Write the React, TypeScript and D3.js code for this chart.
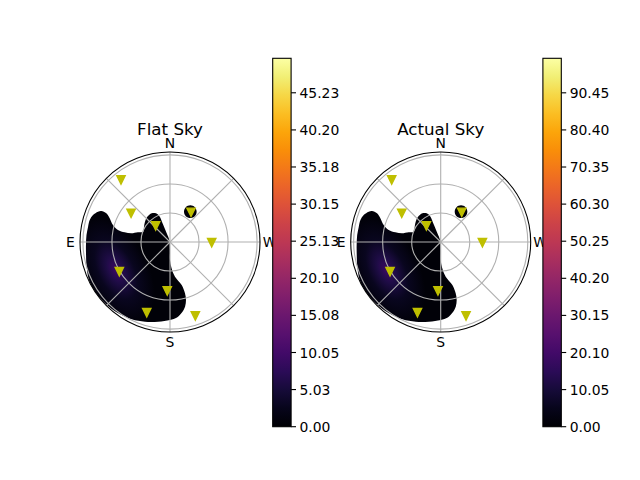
import * as d3 from 'd3';

// satellite positions (azimuth deg, zenith deg), same for both panels
const satAzimuth = [38.3, 53.6, 41.8, 324.7, 269, 120.4, 176.8, 161.8, 198.9];
const satZenith = [81.7, 50.0, 22.2, 37.6, 43.1, 60.7, 50.7, 76.9, 80.8];

// outline of the main filled region (azimuth, zenith)
const mainAz = [
  79.6, 74.7, 70.7, 67.2, 65.7, 65.7, 68.5, 73.4, 77.0, 77.9, 77.3, 73.1, 68.9,
  59.5, 50.9, 41.9, 32.5, 26.0, 22.4, 21.5, 20.8, 19.3, 180, 180, 183.3, 188.2,
  195.2, 196.3, 195.4, 193.1, 189.4, 185.3, 180, 171.6, 162.6, 153.6, 144.1,
  133.3, 123.5, 115.1, 105.4, 98.8, 92.0, 85.2,
];
const mainZen = [
  86.1, 86.0, 84.3, 80.7, 77.9, 72.2, 67.0, 61.5, 55.2, 47.9, 41.0, 34.6, 29.6,
  31.2, 33.3, 35.1, 35.2, 33.0, 29.1, 18.9, 9.6, 2.2, 8.3, 18.6, 26.9, 36.2,
  46.0, 55.2, 62.2, 68.6, 74.1, 78.3, 80.6, 83.2, 86.3, 89.1, 91.0, 92.3, 93,
  92.5, 89.5, 87.8, 86.9, 86.6,
];

// small patch round the north-west satellite
const spotAz = [318.7, 324.5, 331.0, 335.6, 335.2, 328.5, 319.8, 316.1];
const spotZen = [41.7, 44.2, 43.3, 39.5, 34.5, 31.3, 32.5, 37.0];

// brightest part of the field
const glowAz = 117.4;
const glowZen = 62.9;
const glowOffsets = [0, 0.25, 0.55, 1];
const flatGlow = [9.2, 6.0, 2.8, 0.6];
const actualGlow = [18.4, 12.0, 5.6, 1.2];

const flatMax = 49.9;
const actualMax = 99.8;
const flatTicks = [0, 5.03, 10.05, 15.08, 20.1, 25.13, 30.15, 35.18, 40.2, 45.23];
const actualTicks = [0, 10.05, 20.1, 30.15, 40.2, 50.25, 60.3, 70.35, 80.4, 90.45];

const gridZen = [30, 60, 90];
const spokes = [0, 45, 90, 135, 180, 225, 270, 315];
const dirLabels = [
  { az: 0, text: 'N' },
  { az: 90, text: 'E' },
  { az: 180, text: 'S' },
  { az: 270, text: 'W' },
];

const FONT = 'DejaVu Sans, sans-serif';
const rad = (deg: number) => (-deg * Math.PI) / 180;

type PanelProps = {
  id: string;
  title: string;
  cx: number;
  cy: number;
  cbX: number;
  max: number;
  ticks: number[];
  glow: number[];
};

function SkyPanel({ id, title, cx, cy, cbX, max, ticks, glow }: PanelProps) {
  const R = 90;
  const rScale = d3.scaleLinear().domain([0, 93]).range([0, R]);
  const color = d3.scaleSequential(d3.interpolateInferno).domain([0, max]);
  const cbTop = 58.3;
  const cbBottom = 426.7;
  const cbW = 18.4;
  const yScale = d3.scaleLinear().domain([0, max]).range([cbBottom, cbTop]);

  const radial = d3
    .lineRadial<[number, number]>()
    .angle((d) => rad(d[0]))
    .radius((d) => rScale(d[1]))
    .curve(d3.curveCatmullRomClosed.alpha(0.5));

  const mainPath = radial(mainAz.map((a, i) => [a, mainZen[i]]));
  const spotPath = radial(spotAz.map((a, i) => [a, spotZen[i]]));

  const [gx, gy] = d3.pointRadial(rad(glowAz), rScale(glowZen));
  const glowRot = 180 - glowAz;

  const cbStops = d3.range(0, 1.0001, 0.05);

  return (
    <g>
      <defs>
        <clipPath id={`clip-${id}`}>
          <circle cx={0} cy={0} r={R} />
        </clipPath>
        <radialGradient
          id={`glow-${id}`}
          gradientUnits='userSpaceOnUse'
          cx={0}
          cy={0}
          r={1}
          gradientTransform={`translate(${gx},${gy}) rotate(${glowRot}) scale(58,32)`}
        >
          {glow.map((v, i) => (
            <stop key={i} offset={glowOffsets[i]} stopColor={color(v)} />
          ))}
        </radialGradient>
        <linearGradient id={`cb-${id}`} x1={0} y1={1} x2={0} y2={0}>
          {cbStops.map((t, i) => (
            <stop key={i} offset={t} stopColor={d3.interpolateInferno(t)} />
          ))}
        </linearGradient>
      </defs>

      <g transform={`translate(${cx},${cy})`}>
        <circle r={R} fill='white' />
        <g clipPath={`url(#clip-${id})`}>
          <path d={mainPath ?? ''} fill={`url(#glow-${id})`} />
          <path d={spotPath ?? ''} fill={color(glow[3])} />
        </g>
        {gridZen.map((z) => (
          <circle key={z} r={rScale(z)} fill='none' stroke='#b0b0b0' strokeWidth={1.1} />
        ))}
        {spokes.map((a) => {
          const [x, y] = d3.pointRadial(rad(a), R);
          return <line key={a} x1={0} y1={0} x2={x} y2={y} stroke='#b0b0b0' strokeWidth={1.1} />;
        })}
        <circle r={R} fill='none' stroke='black' strokeWidth={1.1} />
        {satAzimuth.map((a, i) => {
          const [x, y] = d3.pointRadial(rad(a), rScale(satZenith[i]));
          return (
            <path
              key={i}
              transform={`translate(${x},${y})`}
              d='M-4.17,-4.17L4.17,-4.17L0,4.17Z'
              fill='#bfbf00'
              stroke='#bfbf00'
              strokeWidth={1.39}
            />
          );
        })}
        {dirLabels.map((l) => {
          const [x, y] = d3.pointRadial(rad(l.az), 99.5);
          return (
            <text
              key={l.text}
              x={x}
              y={y}
              textAnchor='middle'
              dominantBaseline='central'
              fontFamily={FONT}
              fontSize={13.9}
            >
              {l.text}
            </text>
          );
        })}
        <text
          x={0}
          y={-107}
          textAnchor='middle'
          fontFamily={FONT}
          fontSize={16.7}
        >
          {title}
        </text>
      </g>

      <rect x={cbX} y={cbTop} width={cbW} height={cbBottom - cbTop} fill={`url(#cb-${id})`} />
      <rect
        x={cbX}
        y={cbTop}
        width={cbW}
        height={cbBottom - cbTop}
        fill='none'
        stroke='black'
        strokeWidth={1.1}
      />
      {ticks.map((t) => (
        <g key={t} transform={`translate(${cbX + cbW},${yScale(t)})`}>
          <line x1={0} x2={4.9} stroke='black' strokeWidth={1.1} />
          <text
            x={8.4}
            dominantBaseline='central'
            fontFamily={FONT}
            fontSize={13.9}
          >
            {t.toFixed(2)}
          </text>
        </g>
      ))}
    </g>
  );
}

export default function App() {
  return (
    <svg
      width={640}
      height={480}
      style={{ position: 'absolute', left: 0, top: 0, background: 'white' }}
    >
      <rect width={640} height={480} fill='white' />
      <SkyPanel
        id='flat'
        title='Flat Sky'
        cx={170}
        cy={242}
        cbX={272.7}
        max={flatMax}
        ticks={flatTicks}
        glow={flatGlow}
      />
      <SkyPanel
        id='actual'
        title='Actual Sky'
        cx={440.7}
        cy={242}
        cbX={542.9}
        max={actualMax}
        ticks={actualTicks}
        glow={actualGlow}
      />
    </svg>
  );
}
